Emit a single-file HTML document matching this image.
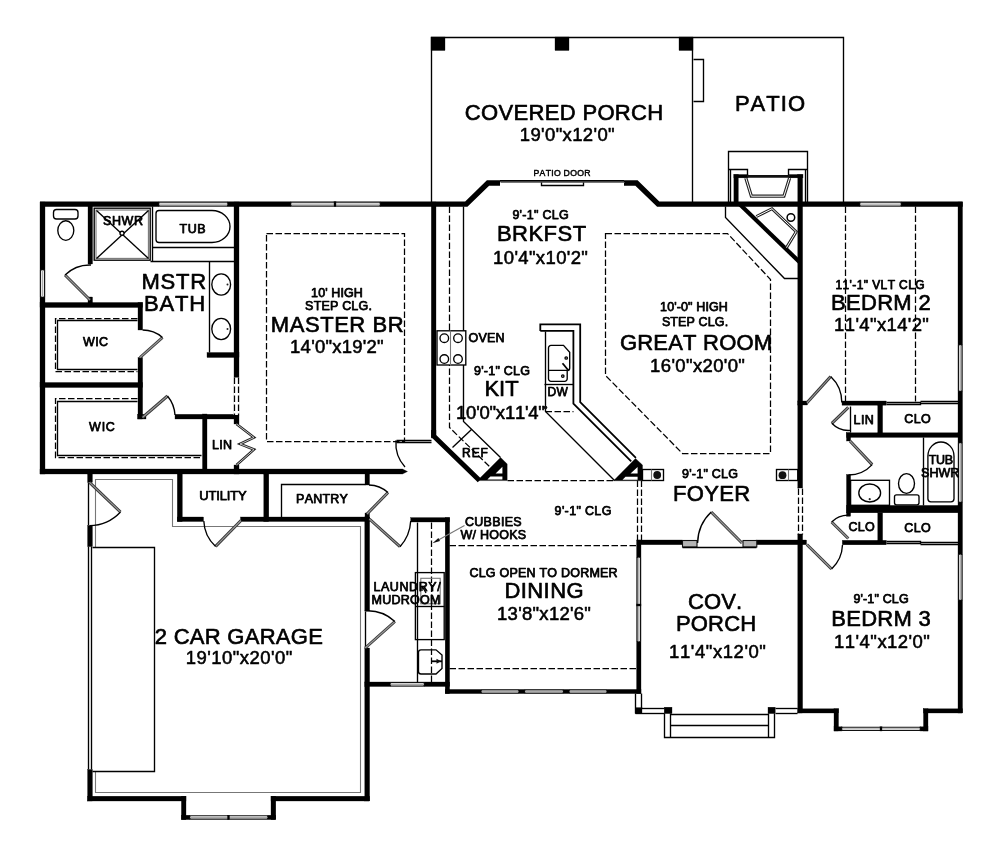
<!DOCTYPE html>
<html><head><meta charset="utf-8"><title>Floor Plan</title>
<style>
html,body{margin:0;padding:0;background:#fff}
svg{display:block}
text{font-family:"Liberation Sans",sans-serif;fill:#000;font-kerning:none}
.w{fill:#000;stroke:#000;stroke-width:0.3}
.t{fill:none;stroke:#000;stroke-width:1.35}
.t2{fill:none;stroke:#000;stroke-width:1.8}
.tw{fill:#fff;stroke:#000;stroke-width:1.35}
.d{fill:none;stroke:#000;stroke-width:1.25;stroke-dasharray:6.5 2.5}
.g{fill:none;stroke:#777;stroke-width:1.1}
.win{fill:#fff;stroke:none}
.wl{fill:none;stroke:#111;stroke-width:1.1}
.wm{fill:none;stroke:#aaa;stroke-width:1.3}
.leaf{fill:none;stroke:#333;stroke-width:3}
.leafin{fill:none;stroke:#999;stroke-width:1.1}
.k{fill:none;stroke:#000;stroke-width:5;stroke-linecap:butt}
</style></head><body>
<svg width="1000" height="847" viewBox="0 0 1000 847" style="filter:grayscale(1) blur(0.4px)">
<rect width="1000" height="847" fill="#fff"/>
<path class="t" d="M431.5 204.5 L431.5 37.5 L843.5 37.5 L843.5 204.5"/>
<path class="t" d="M692.5 37.5 L692.5 204.5"/>
<rect class="w" x="431" y="37" width="14" height="13.5"/>
<rect class="w" x="555" y="37" width="14" height="13.5"/>
<rect class="w" x="679" y="37" width="14" height="13.5"/>
<path class="t" d="M693.5 59.5 L703.5 59.5 L703.5 101.5 L693.5 101.5"/>
<path class="t" d="M728.5 204.5 L728.5 151.5 L807.5 151.5 L807.5 204.5"/>
<path class="t" d="M728.5 169.5 L747.5 169.5 L747.5 175.5"/>
<path class="t" d="M807.5 169.5 L788.5 169.5 L788.5 175.5"/>
<path class="t" d="M730.5 169.5 L730.5 202.5"/>
<path class="t" d="M805.5 169.5 L805.5 202.5"/>
<rect class="w" x="733.9" y="174.5" width="4.4" height="28.5"/>
<rect class="w" x="733.9" y="174.5" width="14.1" height="3.4"/>
<rect class="w" x="788.8" y="174.5" width="14.2" height="3.4"/>
<path d="M747 176.4 H790" stroke="#111" stroke-width="2.6" fill="none"/>
<path d="M745.8 178 L751.4 196.2 H783.9 L789.6 178" fill="none" stroke="#222" stroke-width="3.2"/>
<path d="M745.8 178 L751.4 196.2 H783.9 L789.6 178" fill="none" stroke="#fff" stroke-width="1"/>
<path class="k" style="stroke-width:5.4" d="M40 204.1 H466.3 L488 183 H500"/>
<path class="k" style="stroke-width:5.4" d="M624 183 H636.5 L658.2 204.1 H962.7"/>
<path class="t2" d="M500 180.8 L624 180.8"/>
<path class="g" d="M500.5 182.5 L624.5 182.5"/>
<path class="t" d="M541.5 182.5 L541.5 185.5 L583.5 185.5 L583.5 182.5"/>
<rect class="w" x="40" y="202" width="5" height="272"/>
<rect class="w" x="88" y="206" width="4.5" height="58"/>
<rect class="w" x="88" y="297" width="4.5" height="6"/>
<rect class="w" x="40" y="302.5" width="102.5" height="5.0"/>
<rect class="w" x="138" y="302.5" width="4.6" height="27.5"/>
<rect class="w" x="138" y="357.5" width="4.6" height="61.5"/>
<rect class="w" x="40" y="382.5" width="102.5" height="5.0"/>
<rect class="w" x="137.5" y="414.3" width="8.5" height="4.7"/>
<rect class="w" x="175" y="414.3" width="63.75" height="4.7"/>
<rect class="w" x="202.5" y="414" width="4.5" height="56"/>
<path class="w" d="M40 469 H402.5 L407.5 471.5 L402.5 474 H40 Z"/>
<rect class="w" x="234" y="202" width="5" height="222"/>
<rect class="w" x="234" y="465" width="5" height="9"/>
<rect class="w" x="207" y="352.5" width="32" height="5.0"/>
<rect class="w" x="431.3" y="202" width="4.7" height="236"/>
<path class="k" style="stroke-width:5" d="M433.65 430 V436 L479.5 480.5"/>
<path class="w" d="M477.5 480.6 L500.6 457.4 L507.2 464 V480.6 Z"/>
<path d="M495.6 473.4 L502.4 466.8 V473.4 Z M490.4 476.6 H502.4 V479.6 H487.4 Z" fill="#fff"/>
<path class="w" d="M613.5 480.8 L635.5 458.4 L642.5 465 V480.8 Z"/>
<path d="M630.5 473.6 L637.6 467 V473.6 Z M625.5 476.8 H637.6 V479.8 H622.5 Z" fill="#fff"/>
<rect class="w" x="958" y="202" width="4.5" height="511"/>
<rect class="w" x="797.8" y="174.5" width="4.8" height="313.5"/>
<rect class="w" x="797.8" y="534" width="4.8" height="179"/>
<rect class="w" x="797.8" y="708.8" width="40.7" height="4.2"/>
<rect class="w" x="834" y="708.8" width="4.5" height="22.2"/>
<rect class="w" x="834" y="726.8" width="8" height="4.2"/>
<rect class="w" x="920" y="726.8" width="8" height="4.2"/>
<rect class="w" x="923.5" y="708.8" width="4.5" height="22.2"/>
<rect class="w" x="923.5" y="708.8" width="39.0" height="4.2"/>
<rect class="w" x="637.5" y="540" width="45.0" height="4.7"/>
<rect class="w" x="756" y="540" width="50.5" height="4.7"/>
<rect class="w" x="842.3" y="540.3" width="44.0" height="4.5"/>
<rect class="w" x="797.8" y="401" width="9.7" height="4"/>
<rect class="w" x="842" y="401" width="44.3" height="4.2"/>
<rect class="w" x="877.8" y="405" width="4.8" height="28"/>
<rect class="w" x="846.5" y="432.8" width="111.5" height="4.6"/>
<rect class="w" x="846.5" y="432.8" width="4.1" height="8.2"/>
<rect class="w" x="846.5" y="474.5" width="4.1" height="38.3"/>
<rect class="w" x="846.5" y="505.4" width="111.5" height="7.4"/>
<rect class="w" x="877.8" y="512.8" width="4.8" height="28.2"/>
<rect class="w" x="177.3" y="474" width="5.0" height="47.5"/>
<rect class="w" x="177.3" y="517" width="26.2" height="4.5"/>
<rect class="w" x="240.5" y="517" width="129.0" height="4.5"/>
<rect class="w" x="263.8" y="474" width="5.0" height="47.5"/>
<rect class="w" x="365" y="474" width="4.5" height="11"/>
<rect class="w" x="365" y="513" width="4.5" height="8.5"/>
<rect class="w" x="87.6" y="474" width="4.8" height="8.4"/>
<rect class="w" x="87.6" y="525.6" width="4.8" height="21.0"/>
<rect class="w" x="87.6" y="769.5" width="4.8" height="31.5"/>
<rect class="w" x="87.6" y="796.2" width="98.4" height="4.8"/>
<rect class="w" x="181.4" y="796.2" width="4.6" height="23.4"/>
<rect class="w" x="271" y="796.2" width="4.8" height="23.4"/>
<rect class="w" x="271" y="796.2" width="98.6" height="4.8"/>
<rect class="w" x="181.4" y="815.2" width="8.6" height="4.4"/>
<rect class="w" x="267.5" y="815.2" width="8.3" height="4.4"/>
<rect class="w" x="364.8" y="517" width="4.8" height="94"/>
<rect class="w" x="364.8" y="648" width="4.8" height="153"/>
<rect class="w" x="410.7" y="517.6" width="38.9" height="4.4"/>
<rect class="w" x="445.2" y="517.6" width="4.4" height="176.0"/>
<rect class="w" x="364.8" y="682" width="84.8" height="4.5"/>
<rect class="w" x="445.2" y="689.4" width="195.8" height="4.2"/>
<rect class="w" x="636.6" y="540" width="4.4" height="153.6"/>
<rect class="win" x="159" y="201.7" width="68.5" height="4.800000000000011"/>
<path class="wl" d="M159 202.2 H227.5 M159 206.0 H227.5 M159 201.7 V206.5 M227.5 201.7 V206.5"/>
<path class="wm" d="M159 204.1 H227.5"/>
<rect class="win" x="291" y="201.7" width="89" height="4.800000000000011"/>
<path class="wl" d="M291 202.2 H380 M291 206.0 H380 M291 201.7 V206.5 M380 201.7 V206.5"/>
<path class="wm" d="M291 204.1 H380"/>
<rect class="w" x="334" y="201.7" width="2" height="4.800000000000011"/>
<rect class="win" x="860" y="201.7" width="41" height="4.800000000000011"/>
<path class="wl" d="M860 202.2 H901 M860 206.0 H901 M860 201.7 V206.5 M901 201.7 V206.5"/>
<path class="wm" d="M860 204.1 H901"/>
<rect class="win" x="40" y="270" width="5" height="27"/>
<path class="wl" d="M40.5 270 V297 M44.5 270 V297 M40 270 H45 M40 297 H45"/>
<path class="wm" d="M42.5 270 V297"/>
<rect class="win" x="958" y="345" width="4.5" height="46"/>
<path class="wl" d="M958.5 345 V391 M962.0 345 V391 M958 345 H962.5 M958 391 H962.5"/>
<path class="wm" d="M960.25 345 V391"/>
<rect class="win" x="958" y="443" width="4.5" height="59"/>
<path class="wl" d="M958.5 443 V502 M962.0 443 V502 M958 443 H962.5 M958 502 H962.5"/>
<path class="wm" d="M960.25 443 V502"/>
<rect class="win" x="958" y="554.5" width="4.5" height="45.5"/>
<path class="wl" d="M958.5 554.5 V600 M962.0 554.5 V600 M958 554.5 H962.5 M958 600 H962.5"/>
<path class="wm" d="M960.25 554.5 V600"/>
<rect x="233.5" y="377.5" width="6" height="37.5" fill="#fff"/>
<path class="d" d="M234.5 377.5 L234.5 415.5"/>
<path class="d" d="M238.5 377.5 L238.5 415.5"/>
<rect class="win" x="842" y="726.8" width="78" height="4.2000000000000455"/>
<path class="wl" d="M842 727.3 H920 M842 730.5 H920 M842 726.8 V731 M920 726.8 V731"/>
<path class="wm" d="M842 728.9 H920"/>
<rect class="w" x="880" y="726.8" width="2" height="4.2000000000000455"/>
<rect class="win" x="190" y="815.2" width="77.5" height="4.399999999999977"/>
<path class="wl" d="M190 815.7 H267.5 M190 819.1 H267.5 M190 815.2 V819.6 M267.5 815.2 V819.6"/>
<path class="wm" d="M190 817.4000000000001 H267.5"/>
<rect class="w" x="227.5" y="815.2" width="2" height="4.399999999999977"/>
<rect class="win" x="390.5" y="682" width="33.5" height="4.5"/>
<path class="wl" d="M390.5 682.5 H424 M390.5 686.0 H424 M390.5 682 V686.5 M424 682 V686.5"/>
<path class="wm" d="M390.5 684.25 H424"/>
<rect class="win" x="481.5" y="689.4" width="37.0" height="4.2000000000000455"/>
<path class="wl" d="M481.5 689.9 H518.5 M481.5 693.1 H518.5 M481.5 689.4 V693.6 M518.5 689.4 V693.6"/>
<path class="wm" d="M481.5 691.5 H518.5"/>
<rect class="win" x="525" y="689.4" width="38" height="4.2000000000000455"/>
<path class="wl" d="M525 689.9 H563 M525 693.1 H563 M525 689.4 V693.6 M563 689.4 V693.6"/>
<path class="wm" d="M525 691.5 H563"/>
<rect class="win" x="569.5" y="689.4" width="37.0" height="4.2000000000000455"/>
<path class="wl" d="M569.5 689.9 H606.5 M569.5 693.1 H606.5 M569.5 689.4 V693.6 M606.5 689.4 V693.6"/>
<path class="wm" d="M569.5 691.5 H606.5"/>
<rect class="win" x="636.6" y="557.5" width="4.399999999999977" height="84.0"/>
<path class="wl" d="M637.1 557.5 V641.5 M640.5 557.5 V641.5 M636.6 557.5 H641 M636.6 641.5 H641"/>
<path class="wm" d="M638.8 557.5 V641.5"/>
<rect class="w" x="636.6" y="604" width="4.399999999999977" height="2"/>
<rect x="682.5" y="540.5" width="14.5" height="6.5" fill="#b4b4b4" stroke="#111" stroke-width="1.1"/>
<rect x="743" y="540.5" width="13.8" height="6.5" fill="#b4b4b4" stroke="#111" stroke-width="1.1"/>
<path class="t" d="M682.5 547.5 L756.5 547.5"/>
<path class="d" d="M798.5 488.5 L798.5 534.5"/>
<path class="d" d="M802.5 488.5 L802.5 534.5"/>
<path class="t" d="M886.5 402.5 L920.5 402.5 L920.5 404.5 L886.5 404.5"/>
<path class="t" d="M920.5 401.5 L958.5 401.5"/>
<path class="t" d="M920.5 403.5 L958.5 403.5"/>
<path class="t" d="M886.5 541.5 L920.5 541.5 L920.5 543.5 L886.5 543.5"/>
<path class="t" d="M920.5 542.5 L958.5 542.5"/>
<path class="t" d="M920.5 544.5 L958.5 544.5"/>
<path class="t" d="M635.5 693.5 L635.5 713.5"/>
<path class="t" d="M641.5 693.5 L641.5 708.5"/>
<path class="t" d="M641.5 708.5 L664.5 708.5"/>
<path class="t" d="M635.5 713.5 L664.5 713.5"/>
<path class="t" d="M775.5 708.5 L797.5 708.5"/>
<path class="t" d="M775.5 713.5 L797.5 713.5"/>
<rect class="w" x="635.5" y="707.6" width="6.5" height="6.2"/>
<rect class="w" x="664.2" y="707.2" width="7.8" height="6.4"/>
<rect class="w" x="768" y="707.2" width="7.2" height="6.4"/>
<path class="t" d="M664.5 713.5 L664.5 737.5 L774.5 737.5 L774.5 713.5"/>
<path class="t" d="M670.5 713.5 L670.5 737.5"/>
<path class="t" d="M768.5 713.5 L768.5 737.5"/>
<path class="t" d="M670.5 714.5 L768.5 714.5"/>
<path class="t" d="M670.5 725.5 L768.5 725.5"/>
<path class="g" d="M95.5 547.5 L95.5 479.5 L172.5 479.5 L172.5 526.5 L360.5 526.5 L360.5 792.5 L95.5 792.5 L95.5 771.5"/>
<path class="t" d="M88.5 546.5 L88.5 769.5"/>
<path class="t" d="M91.5 546.5 L91.5 769.5"/>
<path class="t" d="M92.5 547.5 L154.5 547.5 L154.5 771.5 L92.5 771.5"/>
<path class="t" d="M88.5 482.5 L88.5 525.5"/>
<path class="t" d="M365.5 611.5 L365.5 648.5"/>
<path class="t" d="M365.5 484.5 L281.5 484.5 L281.5 517.5"/>
<rect class="t" x="53.5" y="209.5" width="24.5" height="9.5" rx="3"/>
<ellipse class="t" cx="65.8" cy="230.5" rx="8" ry="9.8"/>
<rect class="t" x="94.2" y="208.2" width="56" height="52"/>
<rect class="g" x="96" y="210" width="52.4" height="48.4"/>
<path class="t" d="M96.5 210.5 L148.5 258.5"/>
<path class="t" d="M148.5 210.5 L96.5 258.5"/>
<circle class="tw" cx="122" cy="233.2" r="2"/>
<path class="t" d="M152.5 206.5 L152.5 261.5"/>
<path class="t" d="M152.5 247.5 L234.5 247.5"/>
<path class="t" d="M150.5 261.5 L234.5 261.5"/>
<path class="t" d="M159 210.5 H212 A18 16 0 0 1 212 242.5 H159 A3 3 0 0 1 156 239.5 V213.5 A3 3 0 0 1 159 210.5 Z"/>
<path class="t" d="M209.5 261.5 L209.5 352.5"/>
<ellipse class="t" cx="221.2" cy="284.5" rx="9.4" ry="10.6"/>
<ellipse class="t" cx="221.2" cy="329" rx="9.4" ry="10.6"/>
<circle cx="227.5" cy="284.5" r="1" fill="#222"/><circle cx="227.5" cy="329" r="1" fill="#222"/>
<path class="d" d="M137.5 318.5 L55.5 318.5 L55.5 371.5 L137.5 371.5"/>
<path class="t" d="M137.5 320.5 L57.5 320.5 L57.5 369.5 L137.5 369.5"/>
<path class="d" d="M137.5 398.5 L55.5 398.5 L55.5 457.5 L201.5 457.5"/>
<path class="t" d="M137.5 401.5 L57.5 401.5 L57.5 455.5 L201.5 455.5"/>
<rect class="d" x="266.5" y="233.5" width="138" height="208"/>
<path class="d" d="M449.5 206.5 L449.5 427.5 L490.5 467.5"/>
<path class="t" d="M463.5 206.5 L463.5 421.5 L500.5 457.5"/>
<path class="t" d="M452.5 447.5 L471.5 429.5"/>
<rect class="tw" x="437" y="330.8" width="28.8" height="34.2"/>
<path class="g" d="M450.5 330.5 L450.5 365.5"/>
<circle class="t" cx="444.3" cy="338.2" r="4.3"/>
<circle class="t" cx="444.3" cy="359" r="4.3"/>
<circle class="t" cx="458" cy="338.2" r="4.3"/>
<circle class="t" cx="458" cy="359" r="4.3"/>
<path class="t2" d="M540.3 330.9 L540.3 324.3 L580.2 324.3 L580.2 402.2 L635.9 457.9"/>
<path class="t2" d="M540.3 330.9 L573.4 330.9 L573.4 403.6 L631.2 461.4"/>
<path class="t" d="M545.5 331.5 L545.5 411.5 L614.5 480.5"/>
<path class="t" d="M544.5 384.5 L573.5 384.5"/>
<path class="d" d="M545.5 411.5 L573.5 411.5"/>
<circle cx="545.5" cy="407.5" r="1.8" fill="#111"/>
<path class="t" d="M551 345.4 H563.5 L569.7 352.2 V368 A2.5 2.5 0 0 1 567.2 370.5 V378.8 A2.5 2.5 0 0 1 564.7 381.3 H551 A2.5 2.5 0 0 1 548.5 378.8 V348 A2.5 2.5 0 0 1 551 345.4 Z M548.5 370.3 H567"/>
<circle class="t" cx="566.2" cy="358" r="1.2"/><circle class="t" cx="562.8" cy="376.1" r="1.2"/>
<path class="t2" d="M562.5 363.3 L568.7 370.8"/>
<rect class="t" x="642.5" y="469.5" width="21" height="11"/><path class="g" d="M651.5 469.5 V480.5"/><circle cx="657.2" cy="475" r="3.9" fill="#111"/>
<rect class="t" x="776.5" y="469.5" width="21.3" height="11"/><path class="g" d="M788.5 469.5 V480.5"/><circle cx="782.5" cy="475.2" r="3.9" fill="#111"/>
<path class="d" d="M507.5 480.5 L613.5 480.5"/>
<path class="d" d="M637.5 480.5 L637.5 540.5"/>
<path class="d" d="M641.5 480.5 L641.5 540.5"/>
<path class="d" d="M449.5 545.5 L638.5 545.5"/>
<path class="d" d="M449.5 668.5 L636.5 668.5"/>
<path class="d" d="M605.5 233.5 L727.5 233.5 L770.5 279.5 L770.5 453.5 L682.5 453.5 L605.5 375.5 Z"/>
<path class="d" d="M845.5 206.5 L845.5 401.5"/>
<path class="d" d="M915.5 206.5 L915.5 401.5"/>
<path class="k" style="stroke-width:4.2" d="M740 204.5 L800 262.5"/>
<path class="t" d="M725.5 206.5 L725.5 217.5 L784.5 278.5 L798.5 278.5"/>
<path d="M756.4 216.5 L772 208.7 L796.2 231.7 L786.5 247.6" fill="none" stroke="#222" stroke-width="3"/>
<path d="M756.4 216.5 L772 208.7 L796.2 231.7 L786.5 247.6" fill="none" stroke="#fff" stroke-width="1"/>
<circle class="tw" cx="790.9" cy="217.5" r="3.8" style="stroke-width:1.5"/>
<path class="t" d="M850.5 406.5 L850.5 432.5"/>
<path class="t" d="M923.5 437.5 L923.5 505.5"/>
<path class="t" d="M927.9 456 A13.05 14 0 0 1 954 456 V498.8 A3 3 0 0 1 951 501.8 H930.9 A3 3 0 0 1 927.9 498.8 Z"/>
<rect class="t" x="850.6" y="480.3" width="38.9" height="25"/>
<ellipse class="t" cx="869.7" cy="493" rx="10.9" ry="9"/><circle cx="869.7" cy="499.2" r="1.1" fill="#222"/>
<ellipse class="t" cx="906.5" cy="483.5" rx="8" ry="9.9"/>
<rect class="tw" x="894.5" y="494.8" width="24.5" height="10" rx="2"/>
<path class="t" d="M417.5 522.5 L417.5 682.5"/>
<path class="d" d="M431.5 522.5 L431.5 682.5"/>
<rect class="t" x="415.4" y="572.6" width="28.8" height="67"/>
<path class="t" d="M415.5 606.5 L444.5 606.5"/>
<rect class="g" x="420.8" y="578.3" width="19.4" height="25.5"/>
<path class="t" d="M421 649.8 H436 L442 655 V668.5 L436 674 H421 A2.5 2.5 0 0 1 418.5 671.5 V652.3 A2.5 2.5 0 0 1 421 649.8 Z"/>
<path class="t2" d="M432 661.3 L442 661.3"/>
<path d="M436.5 658.8 L441 661.3 L436.5 663.8 Z" fill="#111"/>
<path class="g" d="M464.5 525.5 L437.5 540.5"/>
<path d="M432.5 543.2 L438.4 538 L440 541 Z" fill="#111"/>
<path d="M422 586 l4 7 M422 586 l0 5" class="t"/>
<path class="leaf" d="M90 300 L65 275"/>
<path class="leafin" d="M90 300 L65 275"/>
<path class="t" d="M65 275 A35.4 35.4 0 0 1 91 265"/>
<path class="leaf" d="M140 357.5 L162.5 337.5"/>
<path class="leafin" d="M140 357.5 L162.5 337.5"/>
<path class="t" d="M162.5 337.5 A30.1 30.1 0 0 0 142.5 330"/>
<path class="leaf" d="M142.5 417.5 L167.5 396"/>
<path class="leafin" d="M142.5 417.5 L167.5 396"/>
<path class="t" d="M167.5 396 A33.0 33.0 0 0 1 175 415"/>
<path d="M236.5 424 L254 437.5 L240 444 L254 449.5 L236.5 465" fill="none" stroke="#222" stroke-width="2.6"/>
<path d="M236.5 424 L254 437.5 L240 444 L254 449.5 L236.5 465" fill="none" stroke="#eee" stroke-width="0.8"/>
<path class="leaf" d="M89.5 482.4 L120.5 512"/>
<path class="leafin" d="M89.5 482.4 L120.5 512"/>
<path class="t" d="M120.5 512 A42.9 42.9 0 0 1 89.5 525.6"/>
<path class="leaf" d="M241 520.5 L215.6 546.4"/>
<path class="leafin" d="M241 520.5 L215.6 546.4"/>
<path class="t" d="M215.6 546.4 A36.3 36.3 0 0 1 203.8 521"/>
<path class="t" d="M396.5 440.5 L431.5 440.5"/>
<path class="t" d="M396.5 442.5 L431.5 442.5"/>
<path class="t" d="M396 440.4 A35.3 35.3 0 0 0 405 467"/>
<path class="leaf" d="M367 514 L388 492.5"/>
<path class="leafin" d="M367 514 L388 492.5"/>
<path class="t" d="M388 492.5 A30.1 30.1 0 0 0 369 485"/>
<path class="leaf" d="M369.4 519 L400 546.7"/>
<path class="leafin" d="M369.4 519 L400 546.7"/>
<path class="t" d="M400 546.7 A41.3 41.3 0 0 0 410.7 521"/>
<path class="leaf" d="M365.2 648 L394.9 621.5"/>
<path class="leafin" d="M365.2 648 L394.9 621.5"/>
<path class="t" d="M394.9 621.5 A39.8 39.8 0 0 0 365.2 610.8"/>
<path class="leaf" d="M742 543 L711.2 512"/>
<path class="leafin" d="M742 543 L711.2 512"/>
<path class="t" d="M711.2 512 A43.7 43.7 0 0 0 697.6 543"/>
<path class="leaf" d="M807 402.8 L830.7 376.5"/>
<path class="leafin" d="M807 402.8 L830.7 376.5"/>
<path class="t" d="M830.7 376.5 A35.4 35.4 0 0 1 841.8 402.6"/>
<path class="leaf" d="M848.3 407.3 L831.8 423.3"/>
<path class="leafin" d="M848.3 407.3 L831.8 423.3"/>
<path class="t" d="M831.8 423.3 A23.0 23.0 0 0 0 850 430.4"/>
<path class="leaf" d="M850 441 L872.2 464.6"/>
<path class="leafin" d="M850 441 L872.2 464.6"/>
<path class="t" d="M872.2 464.6 A32.4 32.4 0 0 1 848.5 475"/>
<path class="leaf" d="M848.3 538.5 L831.6 522"/>
<path class="leafin" d="M848.3 538.5 L831.6 522"/>
<path class="t" d="M831.6 522 A23.5 23.5 0 0 1 848.6 515.2"/>
<rect class="w" x="846.5" y="512.8" width="4.1" height="3.5"/>
<path class="leaf" d="M806.8 544.5 L831.6 569"/>
<path class="leafin" d="M806.8 544.5 L831.6 569"/>
<path class="t" d="M831.6 569 A34.9 34.9 0 0 0 842.5 545"/>
<text x="103.03" y="225" font-size="12.5" stroke="#000" stroke-width="0.75" stroke-linejoin="round" textLength="39.95" lengthAdjust="spacing">SHWR</text>
<text x="179.38" y="232.5" font-size="12.5" stroke="#000" stroke-width="0.75" stroke-linejoin="round" textLength="26.25" lengthAdjust="spacing">TUB</text>
<text x="141.45" y="289.4" font-size="22" stroke="#000" stroke-width="0.65" stroke-linejoin="round" textLength="64.7" lengthAdjust="spacing">MSTR</text>
<text x="143.9" y="311.4" font-size="22" stroke="#000" stroke-width="0.65" stroke-linejoin="round" textLength="61.2" lengthAdjust="spacing">BATH</text>
<text x="83.12" y="346" font-size="12.5" stroke="#000" stroke-width="0.75" stroke-linejoin="round" textLength="24.95" lengthAdjust="spacing">WIC</text>
<text x="89.12" y="430.5" font-size="12.5" stroke="#000" stroke-width="0.75" stroke-linejoin="round" textLength="25.75" lengthAdjust="spacing">WIC</text>
<text x="212.03" y="449" font-size="12.5" stroke="#000" stroke-width="0.75" stroke-linejoin="round" textLength="19.95" lengthAdjust="spacing">LIN</text>
<text x="199.25" y="500" font-size="13" stroke="#000" stroke-width="0.75" stroke-linejoin="round" textLength="47.5" lengthAdjust="spacing">UTILITY</text>
<text x="296.12" y="503" font-size="12.5" stroke="#000" stroke-width="0.75" stroke-linejoin="round" textLength="51.75" lengthAdjust="spacing">PANTRY</text>
<text x="311.12" y="297" font-size="12.5" stroke="#000" stroke-width="0.75" stroke-linejoin="round" textLength="51.75" lengthAdjust="spacing">10' HIGH</text>
<text x="305.12" y="310" font-size="12.5" stroke="#000" stroke-width="0.75" stroke-linejoin="round" textLength="66.75" lengthAdjust="spacing">STEP CLG.</text>
<text x="270.85" y="332.4" font-size="22" stroke="#000" stroke-width="0.65" stroke-linejoin="round" textLength="132.7" lengthAdjust="spacing">MASTER BR</text>
<text x="290.12" y="353.2" font-size="18.5" stroke="#000" stroke-width="0.55" stroke-linejoin="round" textLength="93.35" lengthAdjust="spacing">14'0&quot;x19'2&quot;</text>
<text x="533.57" y="175.5" font-size="8.7" stroke="#000" stroke-width="0.45" stroke-linejoin="round" textLength="56.87" lengthAdjust="spacing">PATIO DOOR</text>
<text x="512.38" y="218.8" font-size="12.5" stroke="#000" stroke-width="0.75" stroke-linejoin="round" textLength="56.25" lengthAdjust="spacing">9'-1&quot; CLG</text>
<text x="496.9" y="240.9" font-size="22" stroke="#000" stroke-width="0.65" stroke-linejoin="round" textLength="89.2" lengthAdjust="spacing">BRKFST</text>
<text x="493.07" y="263.7" font-size="18.5" stroke="#000" stroke-width="0.55" stroke-linejoin="round" textLength="94.85" lengthAdjust="spacing">10'4&quot;x10'2&quot;</text>
<text x="468.38" y="341.9" font-size="12.5" stroke="#000" stroke-width="0.75" stroke-linejoin="round" textLength="36.25" lengthAdjust="spacing">OVEN</text>
<text x="474.12" y="375" font-size="12.5" stroke="#000" stroke-width="0.75" stroke-linejoin="round" textLength="55.75" lengthAdjust="spacing">9'-1&quot; CLG</text>
<text x="484.4" y="396.4" font-size="22" stroke="#000" stroke-width="0.65" stroke-linejoin="round" textLength="34.2" lengthAdjust="spacing">KIT</text>
<text x="456.07" y="418.7" font-size="18.5" stroke="#000" stroke-width="0.55" stroke-linejoin="round" textLength="88.85" lengthAdjust="spacing">10'0&quot;x11'4&quot;</text>
<text x="462.1" y="457.4" font-size="12" stroke="#000" stroke-width="0.75" stroke-linejoin="round" textLength="25.8" lengthAdjust="spacing">REF</text>
<text x="547.6" y="395.5" font-size="12" stroke="#000" stroke-width="0.75" stroke-linejoin="round" textLength="20.2" lengthAdjust="spacing">DW</text>
<text x="660.12" y="311" font-size="12.5" stroke="#000" stroke-width="0.75" stroke-linejoin="round" textLength="67.75" lengthAdjust="spacing">10'-0&quot; HIGH</text>
<text x="661.88" y="326" font-size="12.5" stroke="#000" stroke-width="0.75" stroke-linejoin="round" textLength="66.25" lengthAdjust="spacing">STEP CLG.</text>
<text x="619.9" y="350.4" font-size="22" stroke="#000" stroke-width="0.65" stroke-linejoin="round" textLength="152.2" lengthAdjust="spacing">GREAT ROOM</text>
<text x="650.08" y="371.7" font-size="18.5" stroke="#000" stroke-width="0.55" stroke-linejoin="round" textLength="94.85" lengthAdjust="spacing">16'0&quot;x20'0&quot;</text>
<text x="835.4" y="288.8" font-size="12" stroke="#000" stroke-width="0.75" stroke-linejoin="round" textLength="89.2" lengthAdjust="spacing">11'-1&quot; VLT CLG</text>
<text x="830.95" y="310.4" font-size="22" stroke="#000" stroke-width="0.65" stroke-linejoin="round" textLength="99.7" lengthAdjust="spacing">BEDRM 2</text>
<text x="834.08" y="330.7" font-size="18.5" stroke="#000" stroke-width="0.55" stroke-linejoin="round" textLength="94.85" lengthAdjust="spacing">11'4&quot;x14'2&quot;</text>
<text x="853.58" y="423.6" font-size="12.5" stroke="#000" stroke-width="0.75" stroke-linejoin="round" textLength="20.25" lengthAdjust="spacing">LIN</text>
<text x="904.17" y="423" font-size="12.5" stroke="#000" stroke-width="0.75" stroke-linejoin="round" textLength="26.65" lengthAdjust="spacing">CLO</text>
<text x="928.77" y="463.7" font-size="12.5" stroke="#000" stroke-width="0.75" stroke-linejoin="round" textLength="24.25" lengthAdjust="spacing">TUB</text>
<text x="921.08" y="476.5" font-size="12.5" stroke="#000" stroke-width="0.75" stroke-linejoin="round" textLength="38.25" lengthAdjust="spacing">SHWR</text>
<text x="848.38" y="530.7" font-size="12.5" stroke="#000" stroke-width="0.75" stroke-linejoin="round" textLength="26.25" lengthAdjust="spacing">CLO</text>
<text x="904.17" y="532" font-size="12.5" stroke="#000" stroke-width="0.75" stroke-linejoin="round" textLength="26.65" lengthAdjust="spacing">CLO</text>
<text x="853.38" y="603" font-size="12.5" stroke="#000" stroke-width="0.75" stroke-linejoin="round" textLength="55.25" lengthAdjust="spacing">9'-1&quot; CLG</text>
<text x="831.15" y="626.4" font-size="22" stroke="#000" stroke-width="0.65" stroke-linejoin="round" textLength="99.7" lengthAdjust="spacing">BEDRM 3</text>
<text x="834.08" y="647.7" font-size="18.5" stroke="#000" stroke-width="0.55" stroke-linejoin="round" textLength="95.85" lengthAdjust="spacing">11'4&quot;x12'0&quot;</text>
<text x="682.12" y="478" font-size="12.5" stroke="#000" stroke-width="0.75" stroke-linejoin="round" textLength="55.75" lengthAdjust="spacing">9'-1&quot; CLG</text>
<text x="672.9" y="501.4" font-size="22" stroke="#000" stroke-width="0.65" stroke-linejoin="round" textLength="77.2" lengthAdjust="spacing">FOYER</text>
<text x="687.9" y="609.4" font-size="22" stroke="#000" stroke-width="0.65" stroke-linejoin="round" textLength="54.2" lengthAdjust="spacing">COV.</text>
<text x="675.9" y="631.4" font-size="22" stroke="#000" stroke-width="0.65" stroke-linejoin="round" textLength="80.2" lengthAdjust="spacing">PORCH</text>
<text x="669.08" y="658.2" font-size="18.5" stroke="#000" stroke-width="0.55" stroke-linejoin="round" textLength="96.85" lengthAdjust="spacing">11'4&quot;x12'0&quot;</text>
<text x="554.62" y="514.5" font-size="12.5" stroke="#000" stroke-width="0.75" stroke-linejoin="round" textLength="56.75" lengthAdjust="spacing">9'-1&quot; CLG</text>
<text x="464.93" y="526" font-size="12.5" stroke="#000" stroke-width="0.75" stroke-linejoin="round" textLength="56.75" lengthAdjust="spacing">CUBBIES</text>
<text x="460.43" y="539" font-size="12.5" stroke="#000" stroke-width="0.75" stroke-linejoin="round" textLength="65.75" lengthAdjust="spacing">W/ HOOKS</text>
<text x="469.38" y="577" font-size="12.5" stroke="#000" stroke-width="0.75" stroke-linejoin="round" textLength="148.25" lengthAdjust="spacing">CLG OPEN TO DORMER</text>
<text x="504.4" y="598.4" font-size="22" stroke="#000" stroke-width="0.65" stroke-linejoin="round" textLength="79.2" lengthAdjust="spacing">DINING</text>
<text x="497.07" y="620.2" font-size="18.5" stroke="#000" stroke-width="0.55" stroke-linejoin="round" textLength="93.85" lengthAdjust="spacing">13'8&quot;x12'6&quot;</text>
<text x="373.38" y="590.6" font-size="12.5" stroke="#000" stroke-width="0.75" stroke-linejoin="round" textLength="67.25" lengthAdjust="spacing">LAUNDRY/</text>
<text x="371.62" y="604" font-size="12.5" stroke="#000" stroke-width="0.75" stroke-linejoin="round" textLength="68.75" lengthAdjust="spacing">MUDROOM</text>
<text x="154.7" y="644.2" font-size="22" stroke="#000" stroke-width="0.65" stroke-linejoin="round" textLength="168.2" lengthAdjust="spacing">2 CAR GARAGE</text>
<text x="185.78" y="663.7" font-size="18.5" stroke="#000" stroke-width="0.55" stroke-linejoin="round" textLength="106.45" lengthAdjust="spacing">19'10&quot;x20'0&quot;</text>
<text x="464.8" y="120.4" font-size="22" stroke="#000" stroke-width="0.65" stroke-linejoin="round" textLength="198.4" lengthAdjust="spacing">COVERED PORCH</text>
<text x="519.78" y="140.7" font-size="18.5" stroke="#000" stroke-width="0.55" stroke-linejoin="round" textLength="94.85" lengthAdjust="spacing">19'0&quot;x12'0&quot;</text>
<text x="734.9" y="111.4" font-size="22" stroke="#000" stroke-width="0.65" stroke-linejoin="round" textLength="70.2" lengthAdjust="spacing">PATIO</text>
</svg>
</body></html>
